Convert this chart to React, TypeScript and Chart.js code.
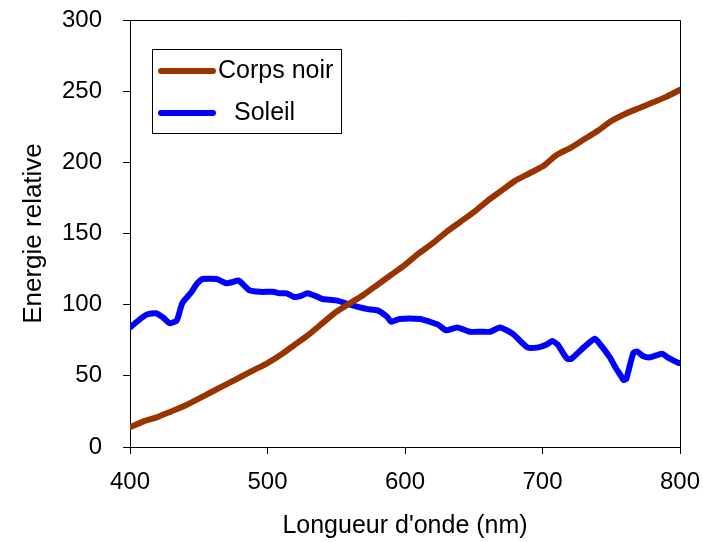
import React, { useEffect, useRef } from "react";
import { Chart, registerables } from "chart.js";

Chart.register(...registerables);

// Blackbody curve, sampled every 10 nm
const corpsNoirWavelengths = [
  400, 410, 420, 430, 440, 450, 460, 470, 480, 490, 500, 510, 520, 530, 540,
  550, 560, 570, 580, 590, 600, 610, 620, 630, 640, 650, 660, 670, 680, 690,
  700, 710, 720, 730, 740, 750, 760, 770, 780, 790, 800,
];
const corpsNoirValues = [
  14, 18, 21, 25, 29, 34, 39, 44, 49, 54, 59, 65, 72, 79, 87,
  95, 101, 107, 114, 121, 128, 136, 143, 151, 158, 165, 173, 180, 187, 192,
  197, 205, 210, 216, 222, 229, 234, 238, 242, 246, 251,
];

// Measured solar spectrum
const soleilWavelengths = [
  400, 405, 412, 419, 424, 429, 434, 438, 444, 449, 453, 463, 470, 475, 479,
  487, 495, 504, 509, 514, 519, 524, 529, 535, 540, 550, 560, 572, 580, 587,
  590, 596, 611, 618, 624, 630, 638, 647, 655, 662, 669, 674, 679, 689, 697,
  703, 707, 711, 715, 718, 721, 730, 738, 742, 749, 753, 757, 759, 761, 766,
  769, 773, 778, 787, 791, 799, 800,
];
const soleilValues = [
  84, 88, 93, 94, 91, 87, 89, 101, 108, 115, 118, 118, 115, 116, 117,
  110, 109, 109, 108, 108, 105.5, 106, 108, 106, 104, 103, 100, 97, 96, 91.5,
  88, 90, 90, 88, 86, 82, 84, 81, 81, 81, 84, 82, 79, 70, 70,
  72, 74.5, 72, 66, 62, 62, 70, 76, 72, 63, 56, 50, 47, 48, 66,
  67, 64, 63, 65.5, 63, 59, 59,
];

const xTicks = [400, 500, 600, 700, 800];
const yTicks = [0, 50, 100, 150, 200, 250, 300];

const seriesLabels = ["Corps noir", "Soleil"];
const seriesColors = ["#993300", "#0000ff"];

const FONT = "'Liberation Sans', Arial, sans-serif";

// Frame on the top and right edges of the plot area
const framePlugin = {
  id: "frame",
  afterDraw(chart: any) {
    const { ctx, chartArea } = chart;
    ctx.save();
    ctx.strokeStyle = "#000";
    ctx.lineWidth = 1;
    ctx.beginPath();
    ctx.moveTo(chartArea.left, chartArea.top + 0.5);
    ctx.lineTo(chartArea.right + 0.5, chartArea.top + 0.5);
    ctx.lineTo(chartArea.right + 0.5, chartArea.bottom);
    ctx.stroke();
    ctx.restore();
  },
};

// Boxed legend placed inside the plot area
const boxLegendPlugin = {
  id: "boxLegend",
  afterDraw(chart: any) {
    const { ctx, chartArea } = chart;
    const x0 = chartArea.left + 22;
    const y0 = chartArea.top + 29;
    const w = 189;
    const h = 84;
    ctx.save();
    ctx.fillStyle = "#fff";
    ctx.fillRect(x0, y0, w, h);
    ctx.strokeStyle = "#000";
    ctx.lineWidth = 1;
    ctx.strokeRect(x0 + 0.5, y0 + 0.5, w, h);
    const rows = [
      { y: y0 + 22, textX: x0 + 66 },
      { y: y0 + 64, textX: x0 + 82 },
    ];
    rows.forEach((row, i) => {
      ctx.strokeStyle = seriesColors[i];
      ctx.lineWidth = 6;
      ctx.lineCap = "round";
      ctx.beginPath();
      ctx.moveTo(x0 + 9, row.y);
      ctx.lineTo(x0 + 61, row.y);
      ctx.stroke();
      ctx.fillStyle = "#000";
      ctx.font = `25px ${FONT}`;
      ctx.textBaseline = "middle";
      ctx.textAlign = "left";
      ctx.fillText(seriesLabels[i], row.textX, row.y);
    });
    ctx.restore();
  },
};

// Keep tick labels from pushing the plot area inward
const noLabelPadding = (scale: any) => {
  scale.paddingTop = 0;
  scale.paddingBottom = 0;
  scale.paddingLeft = 0;
  scale.paddingRight = 0;
};

export default function App() {
  const canvasRef = useRef<HTMLCanvasElement | null>(null);

  useEffect(() => {
    document.body.style.margin = "0";
    const canvas = canvasRef.current;
    if (!canvas) return;

    const chart = new Chart(canvas, {
      type: "line",
      data: {
        datasets: [
          {
            label: seriesLabels[0],
            data: corpsNoirWavelengths.map((x, i) => ({ x, y: corpsNoirValues[i] })),
            borderColor: seriesColors[0],
            backgroundColor: seriesColors[0],
            borderWidth: 6,
            pointRadius: 0,
            tension: 0.2,
            borderCapStyle: "round",
            borderJoinStyle: "round",
          },
          {
            label: seriesLabels[1],
            data: soleilWavelengths.map((x, i) => ({ x, y: soleilValues[i] })),
            borderColor: seriesColors[1],
            backgroundColor: seriesColors[1],
            borderWidth: 6,
            pointRadius: 0,
            tension: 0.2,
            borderCapStyle: "round",
            borderJoinStyle: "round",
          },
        ],
      },
      options: {
        animation: false,
        responsive: false,
        maintainAspectRatio: false,
        layout: { padding: { top: 20, right: 23, left: 0, bottom: 0 } },
        plugins: {
          legend: { display: false },
          tooltip: { enabled: false },
        },
        scales: {
          x: {
            type: "linear",
            min: 400,
            max: 800,
            afterBuildTicks: (scale: any) => {
              scale.ticks = xTicks.map((v) => ({ value: v }));
            },
            afterFit: (scale: any) => {
              scale.height = 95;
              noLabelPadding(scale);
            },
            grid: { drawOnChartArea: false, drawTicks: true, tickLength: 7, color: "#000" },
            border: { color: "#000", width: 1 },
            ticks: {
              color: "#000",
              padding: 14,
              maxRotation: 0,
              font: { family: FONT, size: 24 },
            },
            title: {
              display: true,
              text: "Longueur d'onde (nm)",
              color: "#000",
              font: { family: FONT, size: 25 },
              padding: { top: 0, bottom: 1 },
            },
          },
          y: {
            type: "linear",
            min: 0,
            max: 300,
            afterBuildTicks: (scale: any) => {
              scale.ticks = yTicks.map((v) => ({ value: v }));
            },
            afterFit: (scale: any) => {
              scale.width = 130;
              noLabelPadding(scale);
            },
            grid: { drawOnChartArea: false, drawTicks: true, tickLength: 7, color: "#000" },
            border: { color: "#000", width: 1 },
            ticks: {
              color: "#000",
              padding: 21,
              font: { family: FONT, size: 24 },
            },
            title: {
              display: true,
              text: "Energie relative",
              color: "#000",
              font: { family: FONT, size: 26 },
              padding: { top: 18, bottom: 0 },
            },
          },
        },
      },
      plugins: [framePlugin, boxLegendPlugin],
    });

    return () => chart.destroy();
  }, []);

  return (
    <div style={{ position: "absolute", left: 0, top: 0, width: 703, height: 542 }}>
      <canvas ref={canvasRef} width={703} height={542} style={{ display: "block" }} />
    </div>
  );
}
